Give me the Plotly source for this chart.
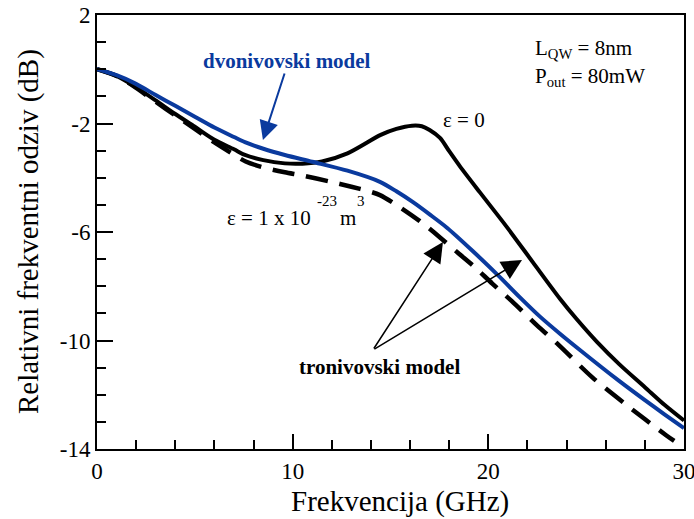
import plotly.graph_objects as go

# Data
f_e0 = [0, 1, 1.94, 3, 4, 5, 6, 7, 7.56, 8.5, 9.6, 10.5, 11.5, 12.8, 14.5, 15.3, 16.1, 16.6, 17.0, 17.53, 18.0, 18.55, 19.57, 20.95, 22.28, 23.66, 24.5, 25.55, 26.7, 28, 29, 30]
db_e0 = [0, -0.25, -0.64, -1.15, -1.65, -2.12, -2.6, -2.95, -3.16, -3.35, -3.47, -3.48, -3.4, -3.1, -2.42, -2.2, -2.08, -2.1, -2.24, -2.53, -3.02, -3.58, -4.54, -5.82, -7.12, -8.46, -9.2, -10.05, -10.88, -11.72, -12.37, -12.95]

f_two = [0, 1, 1.94, 3, 4, 5, 6, 7, 7.56, 8.5, 9.6, 11, 12.8, 14.46, 15.3, 16.15, 17.0, 17.9, 19.2, 20.5, 21.6, 22.64, 23.66, 24.68, 26.7, 28, 29, 30]
db_two = [0, -0.22, -0.52, -0.95, -1.35, -1.75, -2.15, -2.5, -2.69, -2.93, -3.16, -3.41, -3.74, -4.15, -4.5, -4.9, -5.35, -5.85, -6.7, -7.6, -8.4, -9.12, -9.75, -10.35, -11.5, -12.2, -12.72, -13.23]

f_three = [0, 1, 1.94, 3, 4, 5, 6, 7, 7.6, 8.5, 9.6, 10.5, 11.9, 13.0, 13.95, 14.46, 15.3, 16.5, 17.53, 18.5, 19.3, 20.2, 21.2, 22.5, 23.5, 25.3, 27.1, 29.1, 29.5]
db_three = [0, -0.25, -0.66, -1.2, -1.7, -2.2, -2.7, -3.15, -3.4, -3.62, -3.8, -3.92, -4.14, -4.33, -4.51, -4.64, -5.0, -5.6, -6.2, -6.8, -7.29, -7.9, -8.55, -9.45, -10.1, -11.35, -12.4, -13.5, -13.7]

x_ticks = [0, 10, 20, 30]
y_ticks = [2, -2, -6, -10, -14]

BLUE = "#0a3a9e"
FONT = "Liberation Serif"

fig = go.Figure()
fig.add_trace(go.Scatter(x=f_three, y=db_three, mode="lines", line_shape="spline",
                         line=dict(color="black", width=4.5, dash="22px,12px", smoothing=0.8), hoverinfo="skip"))
fig.add_trace(go.Scatter(x=f_e0, y=db_e0, mode="lines", line_shape="spline",
                         line=dict(color="black", width=4, smoothing=0.8), hoverinfo="skip"))
fig.add_trace(go.Scatter(x=f_two, y=db_two, mode="lines", line_shape="spline",
                         line=dict(color=BLUE, width=4, smoothing=0.8), hoverinfo="skip"))

ann = []
# blue arrow
ann.append(dict(x=8.48, y=-2.61, ax=9.61, ay=-0.1, xref="x", yref="y", axref="x", ayref="y",
                showarrow=True, arrowhead=2, arrowsize=1.9, arrowwidth=2, arrowcolor=BLUE, text=""))
# black arrows
for tx, ty in [(17.68, -6.37), (21.72, -7.03)]:
    ann.append(dict(x=tx, y=ty, ax=14.1, ay=-10.35, xref="x", yref="y", axref="x", ayref="y",
                    showarrow=True, arrowhead=2, arrowsize=2.7, arrowwidth=1.5, arrowcolor="black", text=""))

ann.append(dict(x=9.71, y=0.3, xref="x", yref="y", showarrow=False,
                text="<b>dvonivovski model</b>", font=dict(family=FONT, size=21, color=BLUE)))
ann.append(dict(x=14.46, y=-10.98, xref="x", yref="y", showarrow=False,
                text="<b>tronivovski model</b>", font=dict(family=FONT, size=21, color="black")))
ann.append(dict(x=18.76, y=-1.87, xref="x", yref="y", showarrow=False,
                text="ε = 0", font=dict(family=FONT, size=21, color="black")))
ann.append(dict(x=22.28, y=0.75, xref="x", yref="y", showarrow=False, xanchor="left",
                text="L<sub>QW</sub> = 8nm", font=dict(family=FONT, size=21, color="black")))
ann.append(dict(x=22.28, y=-0.29, xref="x", yref="y", showarrow=False, xanchor="left",
                text="P<sub>out</sub> = 80mW", font=dict(family=FONT, size=21, color="black")))
ann.append(dict(x=11.04, y=-5.48, xref="x", yref="y", showarrow=False, xanchor="right",
                text="ε = 1 x 10", font=dict(family=FONT, size=21, color="black")))
ann.append(dict(x=11.75, y=-4.86, xref="x", yref="y", showarrow=False,
                text="-23", font=dict(family=FONT, size=15, color="black")))
ann.append(dict(x=12.83, y=-5.48, xref="x", yref="y", showarrow=False,
                text="m", font=dict(family=FONT, size=21, color="black")))
ann.append(dict(x=13.49, y=-4.86, xref="x", yref="y", showarrow=False,
                text="3", font=dict(family=FONT, size=15, color="black")))
# axis titles
ann.append(dict(x=0.516, y=-0.122, xref="paper", yref="paper", showarrow=False,
                xanchor="center", yanchor="middle",
                text="Frekvencija (GHz)", font=dict(family=FONT, size=29, color="black")))
ann.append(dict(x=-0.1175, y=0.5, xref="paper", yref="paper", showarrow=False,
                xanchor="center", yanchor="middle", textangle=-90,
                text="Relativni frekventni odziv (dB)", font=dict(family=FONT, size=29, color="black")))

fig.update_layout(
    width=694, height=519,
    margin=dict(l=97, r=10, t=15, b=70, autoexpand=False),
    paper_bgcolor="white", plot_bgcolor="white",
    showlegend=False,
    annotations=ann,
    font=dict(family=FONT, color="black"),
)
fig.update_xaxes(range=[0, 30], tickvals=x_ticks, ticktext=[str(v) for v in x_ticks],
                 ticks="inside", ticklen=15, tickwidth=2, tickcolor="black",
                 minor=dict(dtick=2, ticks="inside", ticklen=9, tickwidth=2, tickcolor="black"),
                 showline=True, linecolor="black", linewidth=2, mirror=True,
                 showgrid=False, zeroline=False, automargin=False, ticklabeloverflow="allow",
                 tickfont=dict(family=FONT, size=23, color="black"))
fig.update_yaxes(range=[-14, 2], tickvals=y_ticks, ticktext=[str(v) for v in y_ticks],
                 ticks="inside", ticklen=16, tickwidth=2, tickcolor="black",
                 minor=dict(dtick=1, ticks="inside", ticklen=9, tickwidth=2, tickcolor="black"),
                 showline=True, linecolor="black", linewidth=2, mirror=True,
                 showgrid=False, zeroline=False, automargin=False, ticklabeloverflow="allow",
                 tickfont=dict(family=FONT, size=23, color="black"))

fig.write_html("out.html")
